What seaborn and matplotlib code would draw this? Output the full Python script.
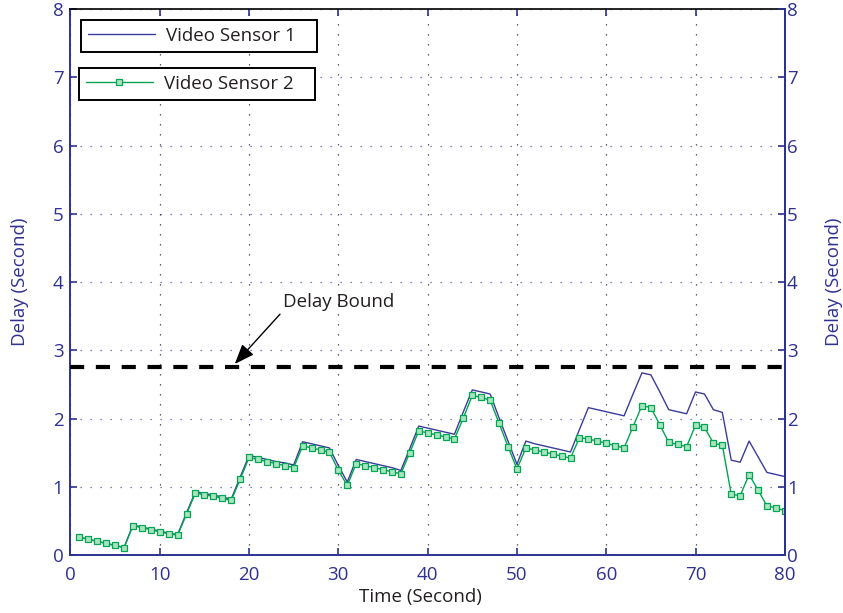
import matplotlib
matplotlib.use("Agg")
import matplotlib.pyplot as plt
import numpy as np
import pandas as pd
import seaborn as sns

# Delay of two video sensors over time (one sample per second)
time_s = list(range(1, 81))
sensor1_delay = [
    0.26, 0.23, 0.20, 0.17, 0.14, 0.11, 0.44, 0.41, 0.38, 0.35,
    0.32, 0.30, 0.62, 0.93, 0.90, 0.88, 0.85, 0.82, 1.14, 1.46,
    1.43, 1.40, 1.37, 1.35, 1.32, 1.66, 1.63, 1.60, 1.57, 1.31,
    1.07, 1.40, 1.37, 1.34, 1.31, 1.28, 1.24, 1.56, 1.89, 1.86,
    1.83, 1.80, 1.77, 2.10, 2.42, 2.39, 2.36, 2.01, 1.67, 1.33,
    1.67, 1.63, 1.60, 1.57, 1.54, 1.51, 1.84, 2.16, 2.13, 2.10,
    2.07, 2.04, 2.36, 2.67, 2.64, 2.39, 2.13, 2.10, 2.07, 2.39,
    2.36, 2.13, 2.09, 1.39, 1.36, 1.67, 1.44, 1.21, 1.18, 1.15,
]
sensor2_delay = [
    0.26, 0.23, 0.20, 0.17, 0.14, 0.11, 0.43, 0.40, 0.37, 0.34,
    0.31, 0.29, 0.60, 0.91, 0.88, 0.86, 0.83, 0.80, 1.11, 1.43,
    1.40, 1.37, 1.34, 1.31, 1.28, 1.60, 1.57, 1.54, 1.51, 1.24,
    1.02, 1.34, 1.31, 1.28, 1.25, 1.22, 1.19, 1.50, 1.82, 1.79,
    1.76, 1.73, 1.70, 2.01, 2.34, 2.31, 2.27, 1.93, 1.59, 1.26,
    1.57, 1.54, 1.51, 1.48, 1.45, 1.42, 1.72, 1.70, 1.67, 1.64,
    1.60, 1.57, 1.88, 2.19, 2.16, 1.91, 1.65, 1.62, 1.59, 1.90,
    1.87, 1.64, 1.61, 0.89, 0.87, 1.18, 0.95, 0.72, 0.69, 0.65,
]
delay_bound = 2.75
series_names = ["Video Sensor 1", "Video Sensor 2"]
x_ticks = list(range(0, 81, 10))
y_ticks = list(range(0, 9))

BLUE = "#2e3192"
LINE_BLUE = "#3b3b9e"
GREEN = "#00a651"
MARKER_FILL = "#a9e4bf"
DARK = "#231f20"

sns.set_style("ticks")
plt.rcParams["font.family"] = ["Open Sans", "DejaVu Sans"]
plt.rcParams["font.size"] = 13.5

df = pd.DataFrame({
    "time": time_s * 2,
    "delay": sensor1_delay + sensor2_delay,
    "sensor": [series_names[0]] * len(time_s) + [series_names[1]] * len(time_s),
})

fig = plt.figure(figsize=(8.43, 6.13), dpi=100)
ax = fig.add_axes([0.0836, 0.0946, 0.8474, 0.8904])

sns.lineplot(data=df[df.sensor == series_names[0]], x="time", y="delay",
             ax=ax, color=LINE_BLUE, lw=1.0, label=series_names[0])
sns.lineplot(data=df[df.sensor == series_names[1]], x="time", y="delay",
             ax=ax, color=GREEN, lw=1.0, marker="s", markersize=4.2,
             markerfacecolor=MARKER_FILL, markeredgecolor=GREEN,
             markeredgewidth=0.9, label=series_names[1])
handles, labels = ax.get_legend_handles_labels()
ax.get_legend().remove()

# delay bound
ax.axhline(delay_bound, color="black", lw=3, linestyle=(0, (3.4, 2.8)),
           dash_capstyle="butt", zorder=3)
ax.annotate("Delay Bound", xy=(18.4, delay_bound + 0.05), xytext=(23.8, 3.71),
            ha="left", va="center", fontsize=13.5, color=DARK,
            arrowprops=dict(arrowstyle="-|>,head_length=0.9,head_width=0.35",
                            color="black", lw=1.0, shrinkA=0, shrinkB=0,
                            relpos=(0.0, 0.0)))

ax.set_xlim(0, 80)
ax.set_ylim(0, 8)
ax.set_xticks(x_ticks)
ax.set_yticks(y_ticks)

# dotted grid: horizontal lines blue, vertical lines black
ax.yaxis.grid(True, color=BLUE, linestyle=(0, (1, 7)), lw=0.9, alpha=0.8)
ax.xaxis.grid(True, color="black", linestyle=(0, (1, 7)), lw=0.9, alpha=0.8)

for side in ("left", "bottom", "right"):
    ax.spines[side].set_color(BLUE)
    ax.spines[side].set_linewidth(1.4)
ax.spines["top"].set_color("black")
ax.spines["top"].set_linewidth(1.2)

ax.tick_params(axis="both", direction="in", length=5, width=1.2,
               color=BLUE, labelcolor=BLUE, labelsize=13.5)
ax.tick_params(axis="x", top=True, pad=8)
ax.tick_params(axis="y", pad=5)
for t in ax.xaxis.get_major_ticks():
    t.tick2line.set_color("black")

ax.set_xlabel("Time (Second)", fontsize=13.5, color=DARK)
ax.set_ylabel("Delay (Second)", fontsize=13.5, color=BLUE)
ax.xaxis.set_label_coords(0.49, -0.060)
ax.yaxis.set_label_coords(-0.058, 0.5)

# right-hand axis mirrors the delay scale
ax2 = ax.twinx()
ax2.set_ylim(0, 8)
ax2.set_yticks(y_ticks)
ax2.tick_params(axis="y", direction="in", length=5, width=1.2,
                color=BLUE, labelcolor=BLUE, labelsize=13.5, pad=1.5)
for side in ("left", "bottom", "top"):
    ax2.spines[side].set_visible(False)
ax2.spines["right"].set_color(BLUE)
ax2.spines["right"].set_linewidth(1.4)
ax2.set_ylabel("Delay (Second)", fontsize=13.5, color=BLUE)
ax2.yaxis.set_label_coords(1.056, 0.5)

# two separate legend boxes
leg_style = dict(loc="upper left", borderaxespad=0, fancybox=False,
                 framealpha=1, edgecolor="black", fontsize=13.5,
                 handlelength=3.6, handletextpad=0.55, borderpad=0.36)
leg1 = ax2.legend([handles[0]], [labels[0] + "   "],
                  bbox_to_anchor=(0.0147, 0.98), **leg_style)
leg1.get_frame().set_linewidth(1.4)
ax2.add_artist(leg1)
leg2 = ax2.legend([handles[1]], [labels[1] + "   "],
                  bbox_to_anchor=(0.0119, 0.892), **leg_style)
leg2.get_frame().set_linewidth(1.4)
for leg in (leg1, leg2):
    for txt in leg.get_texts():
        txt.set_color(DARK)

fig.savefig("out.png", dpi=100)
